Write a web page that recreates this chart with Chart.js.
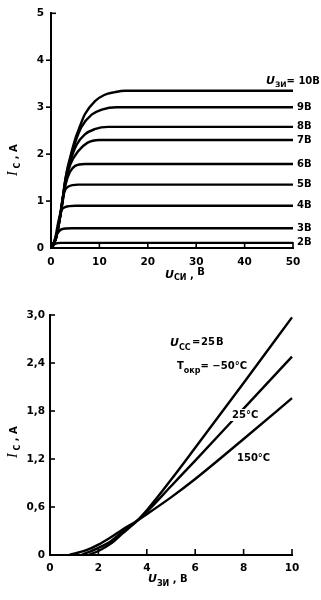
<!DOCTYPE html>
<html><head><meta charset="utf-8">
<script src="https://cdn.jsdelivr.net/npm/chart.js@4.4.0/dist/chart.umd.min.js"></script>
<style>
html,body{margin:0;padding:0;background:#fff;width:321px;height:600px;overflow:hidden}
canvas{position:absolute;left:0}
#c1{top:0}
#c2{top:300px}
</style></head><body>
<canvas id="c1" width="321" height="300"></canvas>
<canvas id="c2" width="321" height="300"></canvas>
<script>
// ---------- data: output characteristics (Uси, В ; Iс, А) ----------
const outXTicks = [0, 10, 20, 30, 40, 50];
const outYTicks = [0, 1, 2, 3, 4, 5];
const gateLabels = ['10В', '9В', '8В', '7В', '6В', '5В', '4В', '3В', '2В'];
const vgs10 = [[0,0],[1,0.2],[2,0.75],[3.2,1.6],[4,1.95],[5,2.32],[5.6,2.49],[7,2.85],[9.1,3.13],[11,3.26],[13.2,3.32],[15.3,3.35],[50,3.35]];
const vgs9  = [[0,0],[1,0.2],[2,0.75],[3,1.48],[4,1.9],[5,2.25],[6.3,2.58],[8.4,2.84],[10.5,2.95],[13.6,3.0],[50,3.0]];
const vgs8  = [[0,0],[1,0.2],[2,0.75],[3,1.45],[4,1.85],[5.3,2.2],[7,2.42],[9,2.53],[11.8,2.58],[50,2.58]];
const vgs7  = [[0,0],[1,0.2],[2,0.74],[3,1.4],[4,1.78],[5.6,2.06],[7.5,2.24],[10,2.3],[50,2.3]];
const vgs6  = [[0,0],[1,0.2],[2,0.72],[3,1.35],[3.9,1.62],[5,1.75],[7,1.79],[50,1.79]];
const vgs5  = [[0,0],[1,0.2],[1.8,0.65],[2.5,1.1],[3,1.25],[3.6,1.31],[5.6,1.35],[50,1.35]];
const vgs4  = [[0,0],[0.8,0.18],[1.5,0.55],[2.1,0.79],[2.9,0.87],[5,0.9],[50,0.9]];
const vgs3  = [[0,0],[0.6,0.13],[1.2,0.29],[2.2,0.4],[4.3,0.42],[50,0.42]];
const vgs2  = [[0,0],[0.4,0.04],[0.8,0.085],[2,0.11],[50,0.11]];
const outCurves = [vgs10, vgs9, vgs8, vgs7, vgs6, vgs5, vgs4, vgs3, vgs2];

// ---------- data: transfer characteristics (Uзи, В ; Iс, А) ----------
const trXTicks = [0, 2, 4, 6, 8, 10];
const trYTicks = [0, 0.6, 1.2, 1.8, 2.4, 3.0];
const trYLabels = ['0', '0,6', '1,2', '1,8', '2,4', '3,0'];
const tempLabels = ['−50°C', '25°C', '150°C'];
const tMinus50 = [[1.6,0],[2,0.05],[2.5,0.14],[3,0.27],[3.5,0.4],[4,0.56],[5,0.94],[6,1.34],[8,2.15],[10,2.97]];
const t25      = [[1.3,0],[2,0.09],[2.5,0.17],[3,0.29],[3.5,0.4],[4,0.54],[5,0.86],[6,1.18],[8,1.83],[10,2.48]];
const t150     = [[0.8,0],[1.5,0.06],[2,0.13],[2.5,0.22],[3,0.32],[3.5,0.41],[4,0.51],[5,0.72],[6,0.95],[8,1.45],[10,1.96]];
const trCurves = [tMinus50, t25, t150];

// ---------- helpers ----------
const FAM = '"DejaVu Sans", sans-serif';
const SERIF = '"Liberation Serif", serif';
function toPts(arr){ return arr.map(p => ({x: p[0], y: p[1]})); }
function mkDatasets(curves){
  return curves.map(c => ({
    data: toPts(c), borderColor: '#000', borderWidth: 2.4, pointRadius: 0,
    fill: false, cubicInterpolationMode: 'monotone', clip: false
  }));
}
function line(ctx, x1, y1, x2, y2){ ctx.beginPath(); ctx.moveTo(x1, y1); ctx.lineTo(x2, y2); ctx.stroke(); }
function rich(ctx, x, y, parts){
  parts.forEach(([t, f, dy]) => { ctx.font = f; ctx.fillText(t, x, y + (dy || 0)); x += ctx.measureText(t).width; });
}
function axisCfg(min, max, ticksArr, labels, pad, fitFn){
  return {
    type: 'linear', min: min, max: max,
    afterBuildTicks: s => { s.ticks = ticksArr.map(v => ({value: v})); },
    afterFit: fitFn,
    grid: {display: false, drawTicks: false, tickLength: 0},
    border: {display: true, color: '#000', width: 2},
    ticks: {
      color: '#000', padding: pad, autoSkip: false, maxRotation: 0,
      font: {family: FAM, size: 10.5, weight: 'bold'},
      callback: (v, i) => labels ? labels[i] : String(v)
    }
  };
}

// ---------- top chart ----------
const topAnno = {
  id: 'topAnno',
  afterDraw(chart){
    const {ctx, chartArea: a, scales: {x, y}} = chart;
    ctx.save();
    ctx.fillStyle = '#000'; ctx.strokeStyle = '#000'; ctx.lineWidth = 1.6;
    outXTicks.forEach(v => { if (v === 0) return; const px = x.getPixelForValue(v); line(ctx, px, a.bottom, px, a.bottom - 6); });
    outYTicks.forEach(v => { if (v === 0) return; const py = y.getPixelForValue(v);
      if (v === 5) line(ctx, a.left, py, a.left + 5, py); else line(ctx, a.left - 5, py, a.left, py); });
    ctx.textAlign = 'left'; ctx.textBaseline = 'middle';
    ctx.font = 'bold 10px ' + FAM;
    outCurves.forEach((c, i) => {
      if (i === 0) return;
      const last = c[c.length - 1];
      ctx.fillText(gateLabels[i], a.right + 4, y.getPixelForValue(last[1]));
    });
    ctx.textBaseline = 'alphabetic';
    const l10 = vgs10[vgs10.length - 1];
    rich(ctx, 266, y.getPixelForValue(l10[1]) - 7, [
      ['U', 'italic bold 11px ' + FAM], ['ЗИ', 'bold 7.5px ' + FAM, 3], ['= 10В', 'bold 10px ' + FAM]
    ]);
    // x title
    rich(ctx, 165, 278, [['U', 'italic bold 11px ' + FAM], ['СИ', 'bold 8px ' + FAM, 2], [' , ', 'bold 10px ' + FAM], ['В', 'bold 10px ' + FAM, -3]]);
    // y title
    ctx.translate(17, 176); ctx.rotate(-Math.PI / 2);
    rich(ctx, 0, 0, [['I', 'italic 14px ' + SERIF], [' C', 'bold 8px ' + FAM, 3], [' , ', 'bold 10px ' + FAM], ['A', 'bold 10px ' + FAM]]);
    ctx.restore();
  }
};

new Chart(document.getElementById('c1'), {
  type: 'line',
  data: {datasets: mkDatasets(outCurves)},
  options: {
    responsive: false, animation: false, devicePixelRatio: 1,
    layout: {padding: {top: 12, right: 28, left: 0, bottom: 0}},
    plugins: {legend: {display: false}, tooltip: {enabled: false}},
    scales: {
      x: axisCfg(0, 50, outXTicks, null, 8, s => { s.height = 52; }),
      y: axisCfg(0, 5, outYTicks, null, 7, s => { s.width = 51; })
    }
  },
  plugins: [topAnno]
});

// ---------- bottom chart ----------
const botAnno = {
  id: 'botAnno',
  afterDraw(chart){
    const {ctx, chartArea: a, scales: {x, y}} = chart;
    ctx.save();
    ctx.fillStyle = '#000'; ctx.strokeStyle = '#000'; ctx.lineWidth = 1.6;
    trXTicks.forEach(v => { if (v === 0) return; const px = x.getPixelForValue(v); line(ctx, px, a.bottom, px, a.bottom - 6); });
    trYTicks.forEach(v => { if (v === 0) return; const py = y.getPixelForValue(v); line(ctx, a.left, py, a.left + 5, py); });
    ctx.textAlign = 'left'; ctx.textBaseline = 'alphabetic';
    rich(ctx, 170, 46, [['U', 'italic bold 11px ' + FAM], ['CC', 'bold 8px ' + FAM, 4]]);
    ctx.font = 'bold 10px ' + FAM;
    ctx.fillText('=', 192, 45); ctx.fillText('25', 201, 45); ctx.fillText('В', 216, 45);
    rich(ctx, 177, 69, [['T', 'bold 10px ' + FAM], ['окр', 'bold 8px ' + FAM, 4], ['= ' + tempLabels[0], 'bold 10px ' + FAM]]);
    ctx.font = 'bold 10px ' + FAM;
    // white gap in the 25°C line behind its label
    ctx.fillStyle = '#fff';
    ctx.fillRect(230, 109, 29, 12);
    ctx.fillStyle = '#000';
    ctx.fillText(tempLabels[1], 232, 118);
    ctx.fillText(tempLabels[2], 237, 161);
    // x title
    rich(ctx, 148, 282, [['U', 'italic bold 11px ' + FAM], ['ЗИ', 'bold 8px ' + FAM, 4], [' , ', 'bold 10px ' + FAM], ['В', 'bold 10px ' + FAM, 0]]);
    // y title
    ctx.translate(17, 158); ctx.rotate(-Math.PI / 2);
    rich(ctx, 0, 0, [['I', 'italic 14px ' + SERIF], [' C', 'bold 8px ' + FAM, 3], [' , ', 'bold 10px ' + FAM], ['A', 'bold 10px ' + FAM]]);
    ctx.restore();
  }
};

new Chart(document.getElementById('c2'), {
  type: 'line',
  data: {datasets: mkDatasets(trCurves)},
  options: {
    responsive: false, animation: false, devicePixelRatio: 1,
    layout: {padding: {top: 15, right: 29, left: 0, bottom: 0}},
    plugins: {legend: {display: false}, tooltip: {enabled: false}},
    scales: {
      x: axisCfg(0, 10, trXTicks, null, 7, s => { s.height = 45; }),
      y: axisCfg(0, 3.0, trYTicks, trYLabels, 5, s => { s.width = 50; })
    }
  },
  plugins: [botAnno]
});
</script>
</body></html>
